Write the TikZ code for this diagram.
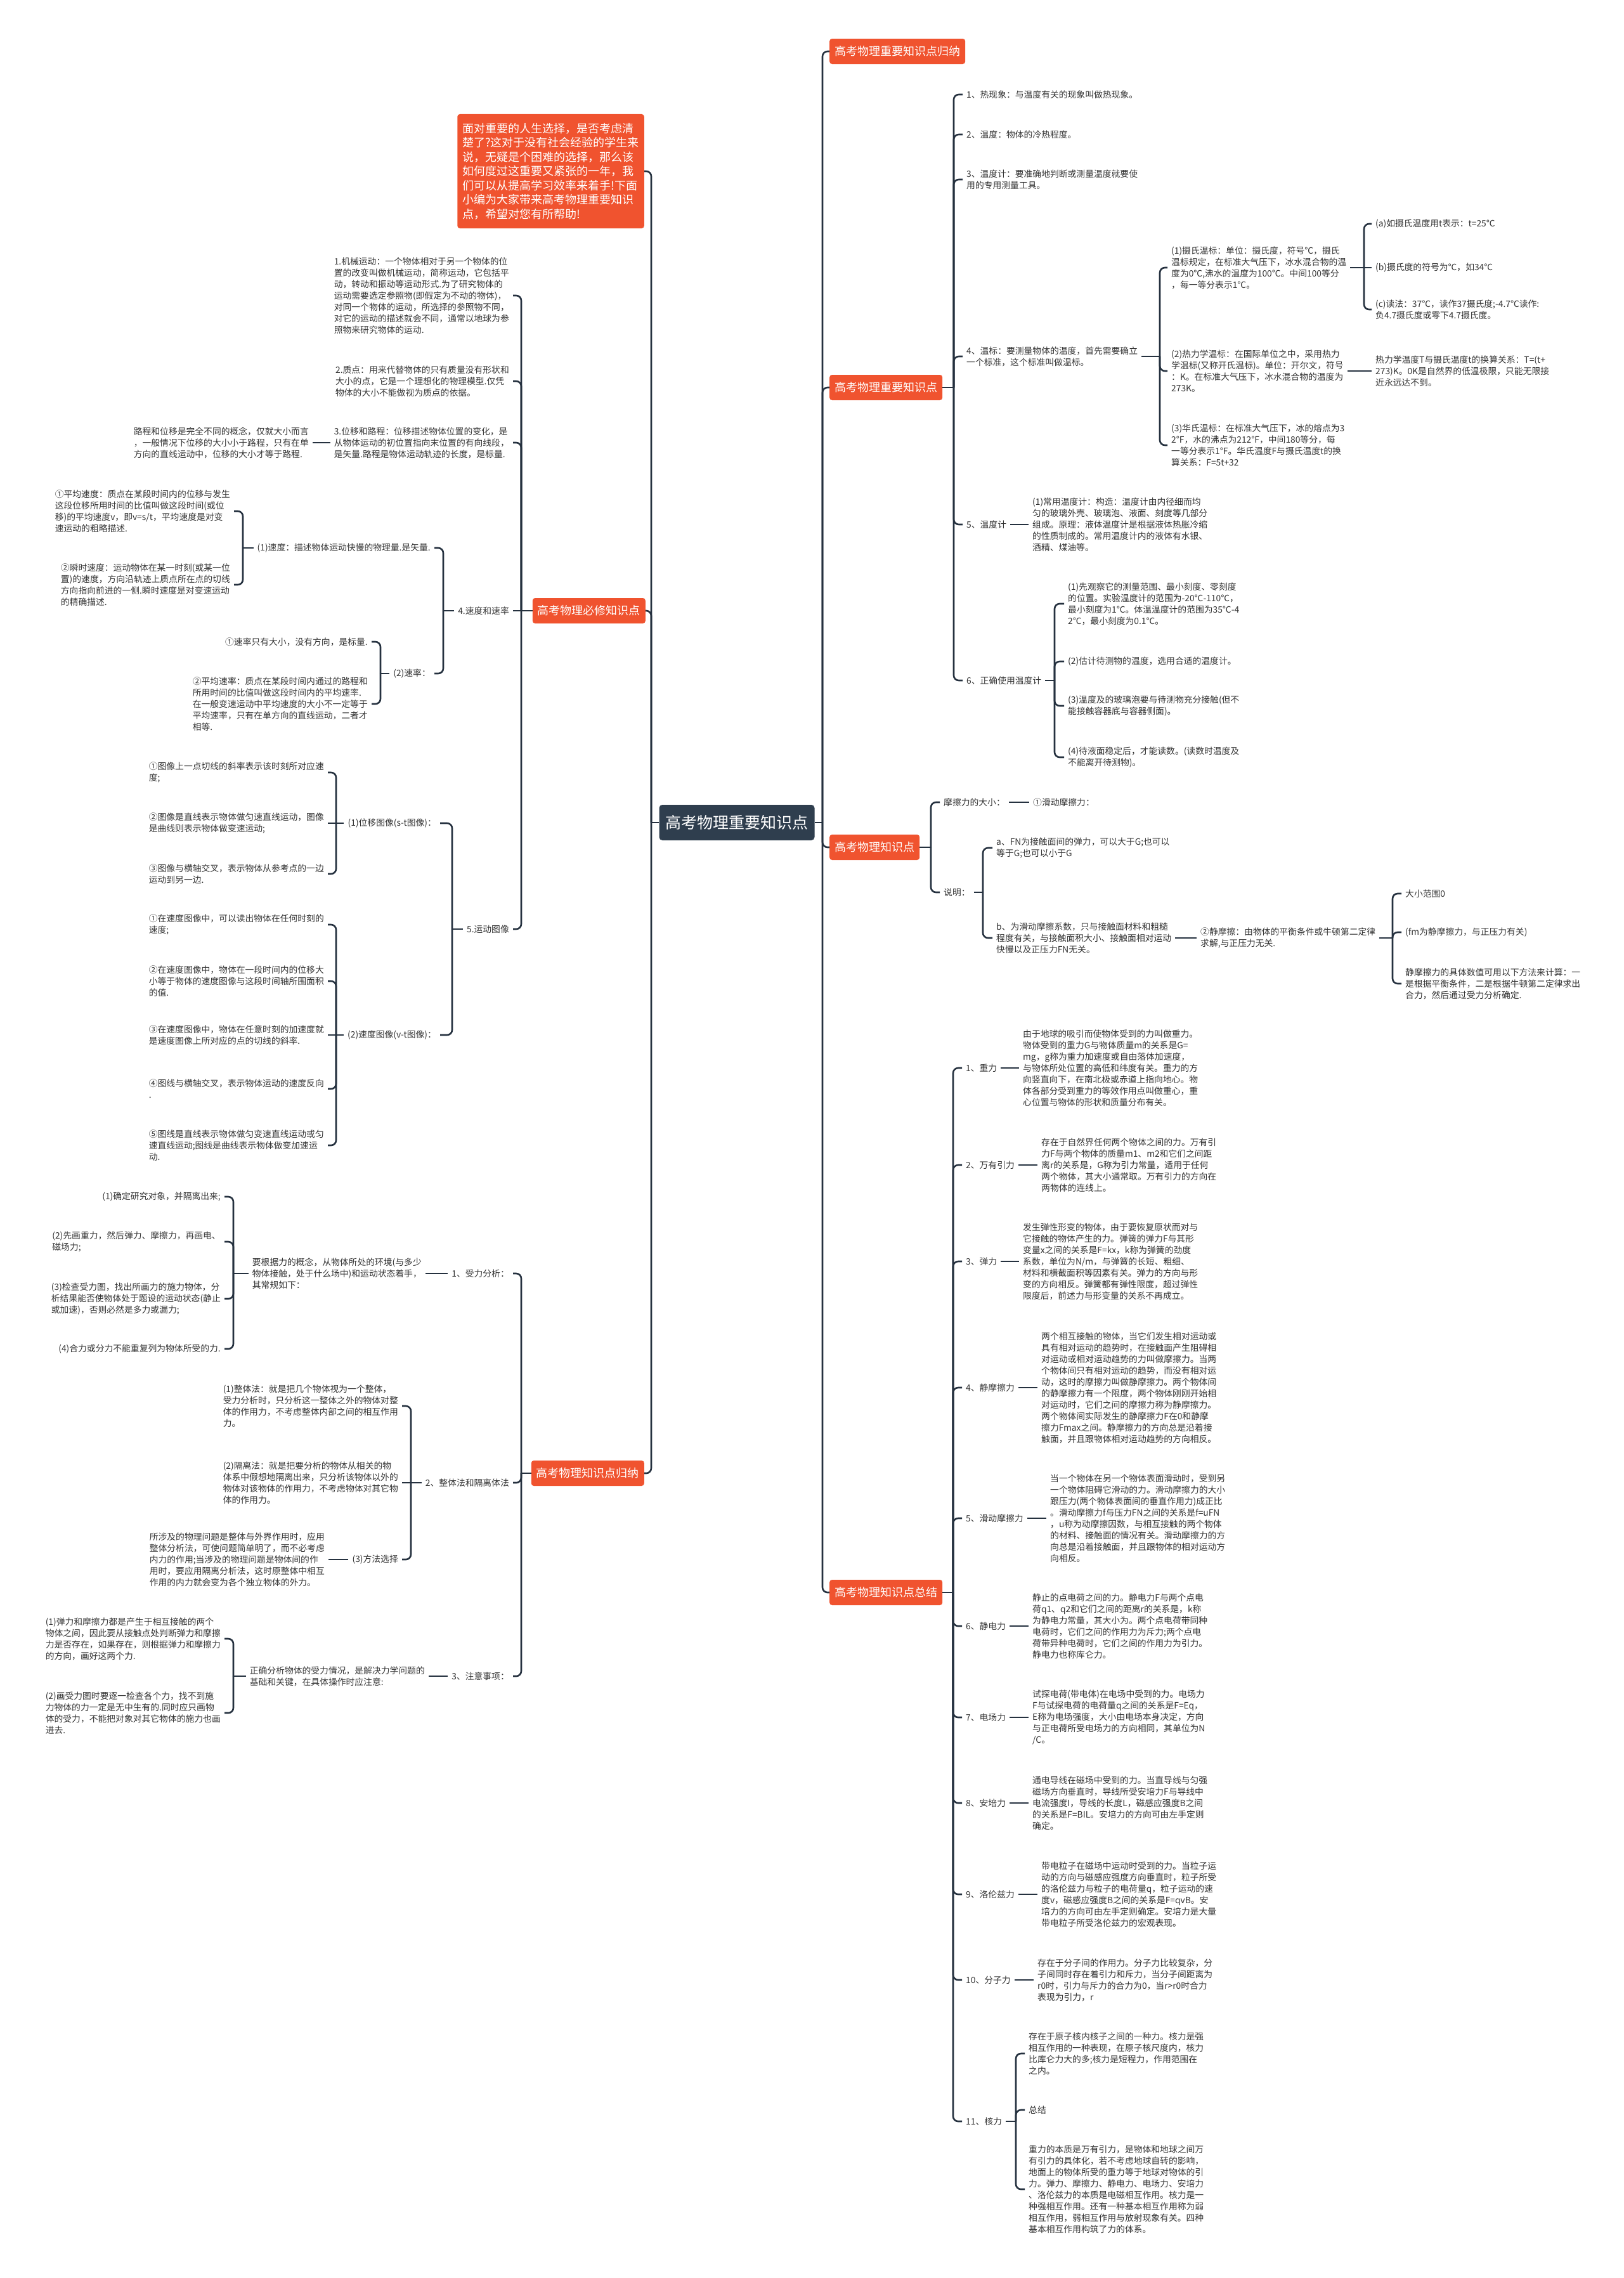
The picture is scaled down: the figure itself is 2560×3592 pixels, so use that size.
\documentclass[tikz,border=0pt]{standalone}
\usepackage{fontspec}
\setmainfont{Noto Sans CJK SC}
\usepackage{tikz}
\definecolor{wlred}{HTML}{F0532F}
\definecolor{wldark}{HTML}{2F3E4E}
\definecolor{wlline}{HTML}{25313F}
\definecolor{wltext}{HTML}{333333}
\tikzset{
  rootBox/.style={fill=wldark, text=white, rounded corners=5pt, font=\fontsize{25}{30}\selectfont, inner xsep=10pt, minimum height=56pt},
  mainBox/.style={fill=wlred, text=white, rounded corners=4pt, font=\fontsize{18}{22}\selectfont, inner xsep=8pt, minimum height=40pt},
  introBox/.style={fill=wlred, text=white, rounded corners=4pt, font=\fontsize{18}{22.5}\selectfont, align=left, inner xsep=8pt, inner ysep=14pt},
  leafText/.style={text=wltext, font=\fontsize{13.8}{18}\selectfont, align=left, inner xsep=6pt, inner ysep=2pt},
  linkLine/.style={draw=wlline, line width=2.6pt, rounded corners=8pt}
}
\newcommand{\rfork}[3]{%
  \coordinate (fk) at (#2,0 |- #1.east);
  \draw[linkLine] (#1.east) -- (fk);
  \foreach \kid in {#3} {\draw[linkLine] (fk) |- (\kid.west);}%
}
\newcommand{\lfork}[3]{%
  \coordinate (fk) at (#2,0 |- #1.west);
  \draw[linkLine] (#1.west) -- (fk);
  \foreach \kid in {#3} {\draw[linkLine] (fk) |- (\kid.east);}%
}

\begin{document}
\begin{tikzpicture}[x=1pt,y=-1pt]
  \fill[white] (0,0) rectangle (2560,3592);
  \useasboundingbox (0,0) rectangle (2560,3592);

  \node[rootBox] (root) at (1162,1297) {高考物理重要知识点};

  \node[mainBox, anchor=west] (zdGuina) at (1308,81) {高考物理重要知识点归纳};
  \node[mainBox, anchor=west] (zhongyao) at (1308,611) {高考物理重要知识点};
  \node[mainBox, anchor=west] (zhishi) at (1308,1336) {高考物理知识点};
  \node[mainBox, anchor=west] (zongjie) at (1308,2511) {高考物理知识点总结};

  \node[introBox, anchor=east] (intro) at (1016,270) {面对重要的人生选择，是否考虑清\\楚了?这对于没有社会经验的学生来\\说，无疑是个困难的选择，那么该\\如何度过这重要又紧张的一年，我\\们可以从提高学习效率来着手!下面\\小编为大家带来高考物理重要知识\\点，希望对您有所帮助!};
  \node[mainBox, anchor=east] (bixiu) at (1018,963) {高考物理必修知识点};
  \node[mainBox, anchor=east] (guina) at (1016,2323) {高考物理知识点归纳};

  \node[leafText, anchor=west] (h1) at (1518,149) {1、热现象：与温度有关的现象叫做热现象。};
  \node[leafText, anchor=west] (h2) at (1518,212) {2、温度：物体的冷热程度。};
  \node[leafText, anchor=west] (h3) at (1518,283) {3、温度计：要准确地判断或测量温度就要使\\用的专用测量工具。};
  \node[leafText, anchor=west] (h4) at (1518,562) {4、温标：要测量物体的温度，首先需要确立\\一个标准，这个标准叫做温标。};
  \node[leafText, anchor=west] (h5) at (1518,827) {5、温度计};
  \node[leafText, anchor=west] (h6) at (1518,1073) {6、正确使用温度计};

  \node[leafText, anchor=west] (ss1) at (1841,422) {(1)摄氏温标：单位：摄氏度，符号℃，摄氏\\温标规定，在标准大气压下，冰水混合物的温\\度为0℃,沸水的温度为100℃。中间100等分\\，每一等分表示1℃。};
  \node[leafText, anchor=west] (ss2) at (1841,585) {(2)热力学温标：在国际单位之中，采用热力\\学温标(又称开氏温标)。单位：开尔文，符号\\：K。在标准大气压下，冰水混合物的温度为\\273K。};
  \node[leafText, anchor=west] (ss3) at (1841,702) {(3)华氏温标：在标准大气压下，冰的熔点为3\\2°F，水的沸点为212°F，中间180等分，每\\一等分表示1°F。华氏温度F与摄氏温度t的换\\算关系：F=5t+32};
  \node[leafText, anchor=west] (sa) at (2163,353) {(a)如摄氏温度用t表示：t=25℃};
  \node[leafText, anchor=west] (sb) at (2163,422) {(b)摄氏度的符号为℃，如34℃};
  \node[leafText, anchor=west] (sc) at (2163,488) {(c)读法：37℃，读作37摄氏度;-4.7℃读作:\\负4.7摄氏度或零下4.7摄氏度。};
  \node[leafText, anchor=west] (sT) at (2163,585) {热力学温度T与摄氏温度t的换算关系：T=(t+\\273)K。0K是自然界的低温极限，只能无限接\\近永远达不到。};
  \node[leafText, anchor=west] (t5) at (1622,827) {(1)常用温度计：构造：温度计由内径细而均\\匀的玻璃外壳、玻璃泡、液面、刻度等几部分\\组成。原理：液体温度计是根据液体热胀冷缩\\的性质制成的。常用温度计内的液体有水银、\\酒精、煤油等。};
  \node[leafText, anchor=west] (u1) at (1678,952) {(1)先观察它的测量范围、最小刻度、零刻度\\的位置。实验温度计的范围为-20℃-110℃，\\最小刻度为1℃。体温温度计的范围为35℃-4\\2℃，最小刻度为0.1℃。};
  \node[leafText, anchor=west] (u2) at (1678,1043) {(2)估计待测物的温度，选用合适的温度计。};
  \node[leafText, anchor=west] (u3) at (1678,1113) {(3)温度及的玻璃泡要与待测物充分接触(但不\\能接触容器底与容器侧面)。};
  \node[leafText, anchor=west] (u4) at (1678,1194) {(4)待液面稳定后，才能读数。(读数时温度及\\不能离开待测物)。};

  \node[leafText, anchor=west] (m1) at (1482,1265) {摩擦力的大小：};
  \node[leafText, anchor=west] (m1a) at (1623,1265) {①滑动摩擦力：};
  \node[leafText, anchor=west] (m2) at (1482,1407) {说明：};
  \node[leafText, anchor=west] (ma) at (1565,1337) {a、FN为接触面间的弹力，可以大于G;也可以\\等于G;也可以小于G};
  \node[leafText, anchor=west] (mb) at (1565,1479) {b、为滑动摩擦系数，只与接触面材料和粗糙\\程度有关，与接触面积大小、接触面相对运动\\快慢以及正压力FN无关。};
  \node[leafText, anchor=west] (mc) at (1887,1479) {②静摩擦：由物体的平衡条件或牛顿第二定律\\求解,与正压力无关.};
  \node[leafText, anchor=west] (md1) at (2210,1409) {大小范围0};
  \node[leafText, anchor=west] (md2) at (2210,1470) {(fm为静摩擦力，与正压力有关)};
  \node[leafText, anchor=west] (md3) at (2210,1551) {静摩擦力的具体数值可用以下方法来计算：一\\是根据平衡条件，二是根据牛顿第二定律求出\\合力，然后通过受力分析确定.};

  \node[leafText, anchor=west] (f1) at (1517,1684) {1、重力};
  \node[leafText, anchor=west] (f2) at (1517,1837) {2、万有引力};
  \node[leafText, anchor=west] (f3) at (1517,1989) {3、弹力};
  \node[leafText, anchor=west] (f4) at (1517,2188) {4、静摩擦力};
  \node[leafText, anchor=west] (f5) at (1517,2394) {5、滑动摩擦力};
  \node[leafText, anchor=west] (f6) at (1517,2564) {6、静电力};
  \node[leafText, anchor=west] (f7) at (1517,2708) {7、电场力};
  \node[leafText, anchor=west] (f8) at (1517,2843) {8、安培力};
  \node[leafText, anchor=west] (f9) at (1517,2987) {9、洛伦兹力};
  \node[leafText, anchor=west] (f10) at (1517,3122) {10、分子力};
  \node[leafText, anchor=west] (f11) at (1517,3345) {11、核力};
  \node[leafText, anchor=west] (f1t) at (1607,1684) {由于地球的吸引而使物体受到的力叫做重力。\\物体受到的重力G与物体质量m的关系是G=\\mg，g称为重力加速度或自由落体加速度，\\与物体所处位置的高低和纬度有关。重力的方\\向竖直向下，在南北极或赤道上指向地心。物\\体各部分受到重力的等效作用点叫做重心，重\\心位置与物体的形状和质量分布有关。};
  \node[leafText, anchor=west] (f2t) at (1636,1837) {存在于自然界任何两个物体之间的力。万有引\\力F与两个物体的质量m1、m2和它们之间距\\离r的关系是，G称为引力常量，适用于任何\\两个物体，其大小通常取。万有引力的方向在\\两物体的连线上。};
  \node[leafText, anchor=west] (f3t) at (1607,1989) {发生弹性形变的物体，由于要恢复原状而对与\\它接触的物体产生的力。弹簧的弹力F与其形\\变量x之间的关系是F=kx，k称为弹簧的劲度\\系数，单位为N/m，与弹簧的长短、粗细、\\材料和横截面积等因素有关。弹力的方向与形\\变的方向相反。弹簧都有弹性限度，超过弹性\\限度后，前述力与形变量的关系不再成立。};
  \node[leafText, anchor=west] (f4t) at (1636,2188) {两个相互接触的物体，当它们发生相对运动或\\具有相对运动的趋势时，在接触面产生阻碍相\\对运动或相对运动趋势的力叫做摩擦力。当两\\个物体间只有相对运动的趋势，而没有相对运\\动，这时的摩擦力叫做静摩擦力。两个物体间\\的静摩擦力有一个限度，两个物体刚刚开始相\\对运动时，它们之间的摩擦力称为静摩擦力。\\两个物体间实际发生的静摩擦力F在0和静摩\\擦力Fmax之间。静摩擦力的方向总是沿着接\\触面，并且跟物体相对运动趋势的方向相反。};
  \node[leafText, anchor=west] (f5t) at (1650,2394) {当一个物体在另一个物体表面滑动时，受到另\\一个物体阻碍它滑动的力。滑动摩擦力的大小\\跟压力(两个物体表面间的垂直作用力)成正比\\。滑动摩擦力f与压力FN之间的关系是f=uFN\\，u称为动摩擦因数，与相互接触的两个物体\\的材料、接触面的情况有关。滑动摩擦力的方\\向总是沿着接触面，并且跟物体的相对运动方\\向相反。};
  \node[leafText, anchor=west] (f6t) at (1622,2564) {静止的点电荷之间的力。静电力F与两个点电\\荷q1、q2和它们之间的距离r的关系是，k称\\为静电力常量，其大小为。两个点电荷带同种\\电荷时，它们之间的作用力为斥力;两个点电\\荷带异种电荷时，它们之间的作用力为引力。\\静电力也称库仑力。};
  \node[leafText, anchor=west] (f7t) at (1622,2708) {试探电荷(带电体)在电场中受到的力。电场力\\F与试探电荷的电荷量q之间的关系是F=Eq，\\E称为电场强度，大小由电场本身决定，方向\\与正电荷所受电场力的方向相同，其单位为N\\/C。};
  \node[leafText, anchor=west] (f8t) at (1622,2843) {通电导线在磁场中受到的力。当直导线与匀强\\磁场方向垂直时，导线所受安培力F与导线中\\电流强度I，导线的长度L，磁感应强度B之间\\的关系是F=BIL。安培力的方向可由左手定则\\确定。};
  \node[leafText, anchor=west] (f9t) at (1636,2987) {带电粒子在磁场中运动时受到的力。当粒子运\\动的方向与磁感应强度方向垂直时，粒子所受\\的洛伦兹力与粒子的电荷量q，粒子运动的速\\度v，磁感应强度B之间的关系是F=qvB。安\\培力的方向可由左手定则确定。安培力是大量\\带电粒子所受洛伦兹力的宏观表现。};
  \node[leafText, anchor=west] (f10t) at (1630,3122) {存在于分子间的作用力。分子力比较复杂，分\\子间同时存在着引力和斥力，当分子间距离为\\r0时，引力与斥力的合力为0，当r>r0时合力\\表现为引力，r};
  \node[leafText, anchor=west] (k1) at (1616,3238) {存在于原子核内核子之间的一种力。核力是强\\相互作用的一种表现，在原子核尺度内，核力\\比库仑力大的多;核力是短程力，作用范围在\\之内。};
  \node[leafText, anchor=west] (k2) at (1616,3327) {总结};
  \node[leafText, anchor=west] (k3) at (1616,3452) {重力的本质是万有引力，是物体和地球之间万\\有引力的具体化，若不考虑地球自转的影响，\\地面上的物体所受的重力等于地球对物体的引\\力。弹力、摩擦力、静电力、电场力、安培力\\、洛伦兹力的本质是电磁相互作用。核力是一\\种强相互作用。还有一种基本相互作用称为弱\\相互作用，弱相互作用与放射现象有关。四种\\基本相互作用构筑了力的体系。};

  \node[leafText, anchor=east] (p1) at (809,466) {1.机械运动：一个物体相对于另一个物体的位\\置的改变叫做机械运动，简称运动，它包括平\\动，转动和振动等运动形式.为了研究物体的\\运动需要选定参照物(即假定为不动的物体)，\\对同一个物体的运动，所选择的参照物不同，\\对它的运动的描述就会不同，通常以地球为参\\照物来研究物体的运动.};
  \node[leafText, anchor=east] (p2) at (809,601) {2.质点：用来代替物体的只有质量没有形状和\\大小的点，它是一个理想化的物理模型.仅凭\\物体的大小不能做视为质点的依据。};
  \node[leafText, anchor=east] (p3) at (809,698) {3.位移和路程：位移描述物体位置的变化，是\\从物体运动的初位置指向末位置的有向线段，\\是矢量.路程是物体运动轨迹的长度，是标量.};
  \node[leafText, anchor=east] (p3a) at (493,698) {路程和位移是完全不同的概念，仅就大小而言\\，一般情况下位移的大小小于路程，只有在单\\方向的直线运动中，位移的大小才等于路程.};
  \node[leafText, anchor=east] (p4) at (809,963) {4.速度和速率};
  \node[leafText, anchor=east] (v1) at (685,864) {(1)速度：描述物体运动快慢的物理量.是矢量.};
  \node[leafText, anchor=east] (v1a) at (369,806) {①平均速度：质点在某段时间内的位移与发生\\这段位移所用时间的比值叫做这段时间(或位\\移)的平均速度v，即v=s/t，平均速度是对变\\速运动的粗略描述.};
  \node[leafText, anchor=east] (v1b) at (369,922) {②瞬时速度：运动物体在某一时刻(或某一位\\置)的速度，方向沿轨迹上质点所在点的切线\\方向指向前进的一侧.瞬时速度是对变速运动\\的精确描述.};
  \node[leafText, anchor=east] (v2) at (685,1062) {(2)速率：};
  \node[leafText, anchor=east] (v2a) at (586,1012) {①速率只有大小，没有方向，是标量.};
  \node[leafText, anchor=east] (v2b) at (586,1110) {②平均速率：质点在某段时间内通过的路程和\\所用时间的比值叫做这段时间内的平均速率.\\在一般变速运动中平均速度的大小不一定等于\\平均速率，只有在单方向的直线运动，二者才\\相等.};
  \node[leafText, anchor=east] (p5) at (809,1465) {5.运动图像};
  \node[leafText, anchor=east] (g1) at (694,1298) {(1)位移图像(s-t图像)：};
  \node[leafText, anchor=east] (g1a) at (517,1218) {①图像上一点切线的斜率表示该时刻所对应速\\度;};
  \node[leafText, anchor=east] (g1b) at (517,1298) {②图像是直线表示物体做匀速直线运动，图像\\是曲线则表示物体做变速运动;};
  \node[leafText, anchor=east] (g1c) at (517,1378) {③图像与横轴交叉，表示物体从参考点的一边\\运动到另一边.};
  \node[leafText, anchor=east] (g2) at (694,1632) {(2)速度图像(v-t图像)：};
  \node[leafText, anchor=east] (g2a) at (517,1458) {①在速度图像中，可以读出物体在任何时刻的\\速度;};
  \node[leafText, anchor=east] (g2b) at (517,1547) {②在速度图像中，物体在一段时间内的位移大\\小等于物体的速度图像与这段时间轴所围面积\\的值.};
  \node[leafText, anchor=east] (g2c) at (517,1632) {③在速度图像中，物体在任意时刻的加速度就\\是速度图像上所对应的点的切线的斜率.};
  \node[leafText, anchor=east] (g2d) at (517,1717) {④图线与横轴交叉，表示物体运动的速度反向\\.};
  \node[leafText, anchor=east] (g2e) at (517,1806) {⑤图线是直线表示物体做匀变速直线运动或匀\\速直线运动;图线是曲线表示物体做变加速运\\动.};

  \node[leafText, anchor=east] (q1) at (809,2008) {1、受力分析：};
  \node[leafText, anchor=east] (q1a) at (671,2008) {要根据力的概念，从物体所处的环境(与多少\\物体接触，处于什么场中)和运动状态着手，\\其常规如下：};
  \node[leafText, anchor=east] (q1a1) at (354,1887) {(1)确定研究对象，并隔离出来;};
  \node[leafText, anchor=east] (q1a2) at (354,1958) {(2)先画重力，然后弹力、摩擦力，再画电、\\磁场力;};
  \node[leafText, anchor=east] (q1a3) at (354,2048) {(3)检查受力图，找出所画力的施力物体，分\\析结果能否使物体处于题设的运动状态(静止\\或加速)，否则必然是多力或漏力;};
  \node[leafText, anchor=east] (q1a4) at (354,2127) {(4)合力或分力不能重复列为物体所受的力.};
  \node[leafText, anchor=east] (q2) at (809,2338) {2、整体法和隔离体法};
  \node[leafText, anchor=east] (w1) at (634,2217) {(1)整体法：就是把几个物体视为一个整体，\\受力分析时，只分析这一整体之外的物体对整\\体的作用力，不考虑整体内部之间的相互作用\\力。};
  \node[leafText, anchor=east] (w2) at (634,2338) {(2)隔离法：就是把要分析的物体从相关的物\\体系中假想地隔离出来，只分析该物体以外的\\物体对该物体的作用力，不考虑物体对其它物\\体的作用力。};
  \node[leafText, anchor=east] (w3) at (634,2459) {(3)方法选择};
  \node[leafText, anchor=east] (w3a) at (518,2459) {所涉及的物理问题是整体与外界作用时，应用\\整体分析法，可使问题简单明了，而不必考虑\\内力的作用;当涉及的物理问题是物体间的作\\用时，要应用隔离分析法，这时原整体中相互\\作用的内力就会变为各个独立物体的外力。};
  \node[leafText, anchor=east] (q3) at (809,2643) {3、注意事项：};
  \node[leafText, anchor=east] (q3a) at (676,2643) {正确分析物体的受力情况，是解决力学问题的\\基础和关键，在具体操作时应注意:};
  \node[leafText, anchor=east] (q3a1) at (354,2584) {(1)弹力和摩擦力都是产生于相互接触的两个\\物体之间，因此要从接触点处判断弹力和摩擦\\力是否存在，如果存在，则根据弹力和摩擦力\\的方向，画好这两个力.};
  \node[leafText, anchor=east] (q3a2) at (354,2701) {(2)画受力图时要逐一检查各个力，找不到施\\力物体的力一定是无中生有的.同时应只画物\\体的受力，不能把对象对其它物体的施力也画\\进去.};

  \rfork{root}{1297}{zdGuina,zhongyao,zhishi,zongjie}
  \lfork{root}{1027}{intro,bixiu,guina}

  \rfork{zhongyao}{1504}{h1,h2,h3,h4,h5,h6}
  \rfork{h4}{1829}{ss1,ss2,ss3}
  \rfork{ss1}{2151}{sa,sc}
  \draw[linkLine] (fk) -- (sb.west);
  \draw[linkLine] (ss2.east) -- (sT.west);
  \draw[linkLine] (h5.east) -- (t5.west);
  \rfork{h6}{1663}{u1,u2,u3,u4}

  \rfork{zhishi}{1468}{m1,m2}
  \draw[linkLine] (m1.east) -- (m1a.west);
  \rfork{m2}{1550}{ma,mb}
  \draw[linkLine] (mb.east) -- (mc.west);
  \rfork{mc}{2196}{md1,md2,md3}

  \rfork{zongjie}{1503}{f1,f2,f3,f4,f5,f6,f7,f8,f9,f10,f11}
  \draw[linkLine] (f1.east) -- (f1t.west);
  \draw[linkLine] (f2.east) -- (f2t.west);
  \draw[linkLine] (f3.east) -- (f3t.west);
  \draw[linkLine] (f4.east) -- (f4t.west);
  \draw[linkLine] (f5.east) -- (f5t.west);
  \draw[linkLine] (f6.east) -- (f6t.west);
  \draw[linkLine] (f7.east) -- (f7t.west);
  \draw[linkLine] (f8.east) -- (f8t.west);
  \draw[linkLine] (f9.east) -- (f9t.west);
  \draw[linkLine] (f10.east) -- (f10t.west);
  \rfork{f11}{1602}{k1,k2,k3}

  \lfork{bixiu}{822}{p1,p2,p3,p5}
  \draw[linkLine] (fk) -- (p4.east);
  \draw[linkLine] (p3.west) -- (p3a.east);
  \lfork{p4}{699}{v1,v2}
  \lfork{v1}{383}{v1a,v1b}
  \lfork{v2}{600}{v2a,v2b}
  \lfork{p5}{713}{g1,g2}
  \lfork{g1}{530}{g1a,g1c}
  \draw[linkLine] (fk) -- (g1b.east);
  \lfork{g2}{530}{g2a,g2b,g2d,g2e}
  \draw[linkLine] (fk) -- (g2c.east);

  \lfork{guina}{822}{q1,q2,q3}
  \draw[linkLine] (q1.west) -- (q1a.east);
  \lfork{q1a}{368}{q1a1,q1a2,q1a3,q1a4}
  \lfork{q2}{648}{w1,w3}
  \draw[linkLine] (fk) -- (w2.east);
  \draw[linkLine] (w3.west) -- (w3a.east);
  \draw[linkLine] (q3.west) -- (q3a.east);
  \lfork{q3a}{368}{q3a1,q3a2}
\end{tikzpicture}
\end{document}
